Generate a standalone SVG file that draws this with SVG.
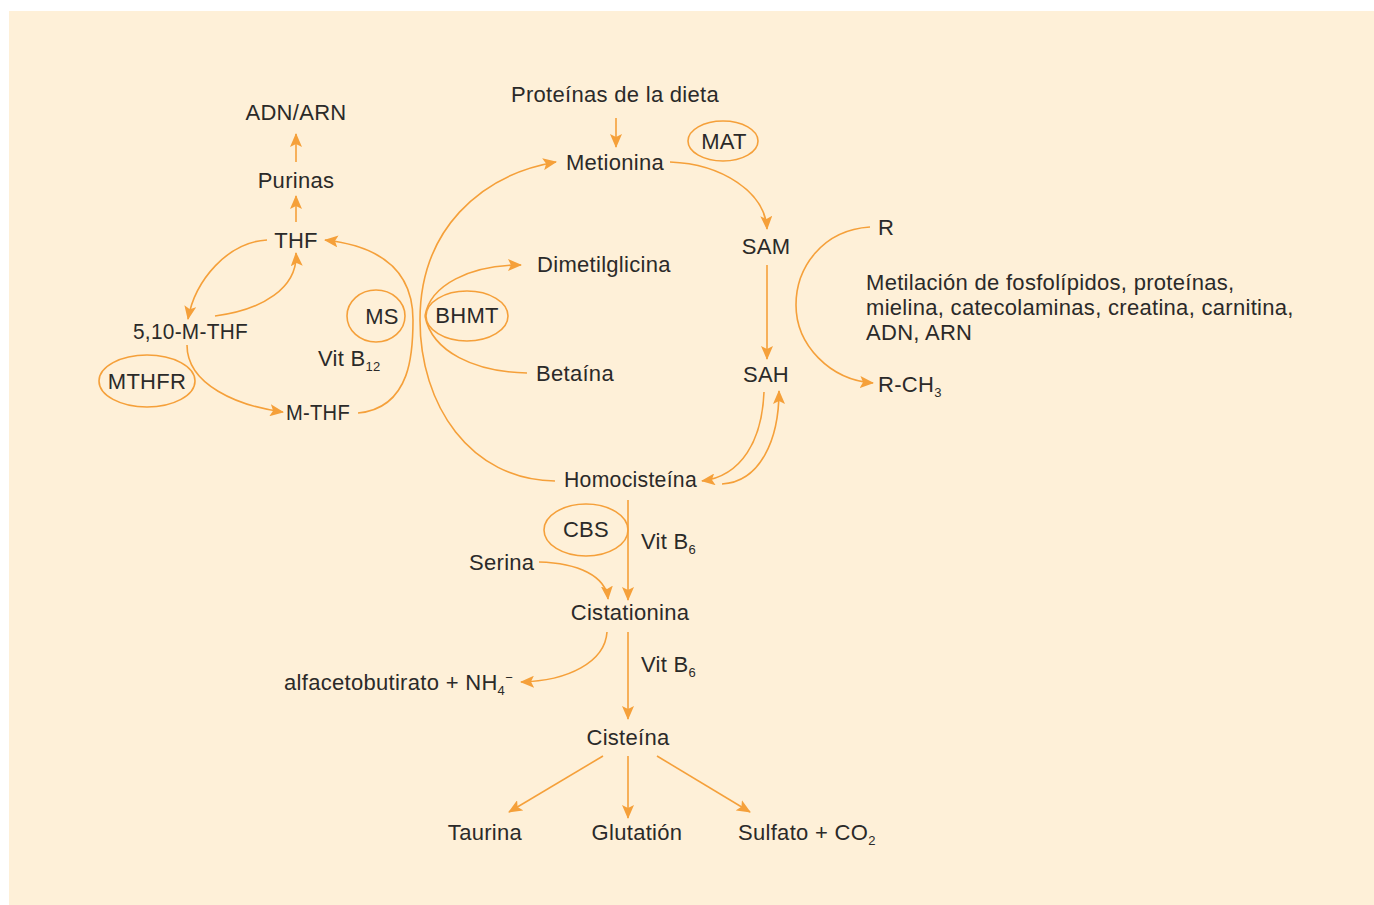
<svg xmlns="http://www.w3.org/2000/svg" width="1374" height="905" viewBox="0 0 1374 905">
<defs>
<marker id="ah" markerUnits="userSpaceOnUse" markerWidth="14" markerHeight="12" viewBox="0 0 14 12" refX="13" refY="6" orient="auto">
<path d="M0,0 L14,6 L0,12 L3,6 Z" fill="#F5A03A"/>
</marker>
<style>
text{font-family:"Liberation Sans",Arial,sans-serif;font-size:22px;letter-spacing:0.3px;fill:#2b2a29}
.m{text-anchor:middle}
.sub{font-size:13px}
.c{fill:none;stroke:#F5A03A;stroke-width:1.6}
.e{fill:none;stroke:#F5A03A;stroke-width:1.6}
</style>
</defs>
<rect x="9" y="11" width="1365" height="894" fill="#FEF0D8"/>
<g id="connectors">
<path class="c" d="M296,162 L296,134" marker-end="url(#ah)"/>
<path class="c" d="M296,222 L296,196" marker-end="url(#ah)"/>
<path class="c" d="M267,240 C228,242 195,280 188,319" marker-end="url(#ah)"/>
<path class="c" d="M215,316 C262,310 298,288 296,253" marker-end="url(#ah)"/>
<path class="c" d="M187,345 C187,385 238,406 283,412" marker-end="url(#ah)"/>
<path class="c" d="M358,413 C412,408 413,350 413,320 C413,270 380,246 325,240" marker-end="url(#ah)"/>
<path class="c" d="M616,118 L616,147" marker-end="url(#ah)"/>
<path class="c" d="M670,162 C722,164 765,192 767,229" marker-end="url(#ah)"/>
<path class="c" d="M767,265 L767,359" marker-end="url(#ah)"/>
<path class="c" d="M764,392 C762,440 742,476 702,481" marker-end="url(#ah)"/>
<path class="c" d="M722,484 C760,482 779,440 779,391" marker-end="url(#ah)"/>
<path class="c" d="M555,481 C470,480 420,405 420,320 C420,230 480,175 556,162" marker-end="url(#ah)"/>
<path class="c" d="M425,316 C430,285 470,265 521,265" marker-end="url(#ah)"/>
<path class="c" d="M425,316 C432,352 475,372 527,373"/>
<path class="c" d="M870,227 C822,230 796,268 796,305 C796,345 830,380 873,383" marker-end="url(#ah)"/>
<path class="c" d="M628,500 L628,600" marker-end="url(#ah)"/>
<path class="c" d="M539,562 C578,563 606,576 608,599" marker-end="url(#ah)"/>
<path class="c" d="M607,632 C605,662 568,681 521,682" marker-end="url(#ah)"/>
<path class="c" d="M628,632 L628,719" marker-end="url(#ah)"/>
<path class="c" d="M603,756 L509,812" marker-end="url(#ah)"/>
<path class="c" d="M628,756 L628,818" marker-end="url(#ah)"/>
<path class="c" d="M657,756 L750,812" marker-end="url(#ah)"/>
</g>
<g id="adn"><text class="m" x="296" y="120">ADN/ARN</text></g>
<g id="purinas"><text class="m" x="296" y="188">Purinas</text></g>
<g id="thf"><text class="m" x="296" y="248">THF</text></g>
<g id="mthf510"><text x="133" y="339" textLength="115" lengthAdjust="spacingAndGlyphs">5,10-M-THF</text></g>
<g id="mthfr"><ellipse class="e" cx="147" cy="381" rx="48" ry="26"/><text class="m" x="147" y="389">MTHFR</text></g>
<g id="mthf"><text x="286" y="420" textLength="64" lengthAdjust="spacingAndGlyphs">M-THF</text></g>
<g id="ms"><ellipse class="e" cx="376" cy="316" rx="29" ry="26"/><text class="m" x="382" y="324">MS</text></g>
<g id="vitb12"><text x="318" y="366">Vit B<tspan class="sub" dy="5">12</tspan></text></g>
<g id="proteinas"><text class="m" x="615" y="102">Proteínas de la dieta</text></g>
<g id="metionina"><text class="m" x="615" y="170">Metionina</text></g>
<g id="mat"><ellipse class="e" cx="723" cy="141" rx="35" ry="20"/><text class="m" x="724" y="149">MAT</text></g>
<g id="sam"><text class="m" x="766" y="254">SAM</text></g>
<g id="sah"><text class="m" x="766" y="382">SAH</text></g>
<g id="homocisteina"><text x="564" y="487" textLength="133" lengthAdjust="spacingAndGlyphs">Homocisteína</text></g>
<g id="bhmt"><ellipse class="e" cx="467" cy="316" rx="41" ry="25"/><text class="m" x="467" y="323">BHMT</text></g>
<g id="dimetilglicina"><text x="537" y="272">Dimetilglicina</text></g>
<g id="betaina"><text x="536" y="381">Betaína</text></g>
<g id="r"><text x="878" y="235">R</text></g>
<g id="rch3"><text x="878" y="392">R-CH<tspan class="sub" dy="5">3</tspan></text></g>
<g id="metilacion">
<text x="866" y="290">Metilación de fosfolípidos, proteínas,</text>
<text x="866" y="315">mielina, catecolaminas, creatina, carnitina,</text>
<text x="866" y="340">ADN, ARN</text>
</g>
<g id="cbs"><ellipse class="e" cx="586" cy="530" rx="42" ry="26"/><text class="m" x="586" y="537">CBS</text></g>
<g id="vitb6a"><text x="641" y="549">Vit B<tspan class="sub" dy="5">6</tspan></text></g>
<g id="serina"><text x="469" y="570">Serina</text></g>
<g id="cistationina"><text class="m" x="630" y="620">Cistationina</text></g>
<g id="alfa"><text x="284" y="690">alfacetobutirato + NH<tspan class="sub" dy="5">4</tspan><tspan class="sub" dy="-13">−</tspan></text></g>
<g id="vitb6b"><text x="641" y="672">Vit B<tspan class="sub" dy="5">6</tspan></text></g>
<g id="cisteina"><text class="m" x="628" y="745">Cisteína</text></g>
<g id="taurina"><text class="m" x="485" y="840">Taurina</text></g>
<g id="glutation"><text class="m" x="637" y="840">Glutatión</text></g>
<g id="sulfato"><text x="738" y="840">Sulfato + CO<tspan class="sub" dy="5">2</tspan></text></g>
</svg>
